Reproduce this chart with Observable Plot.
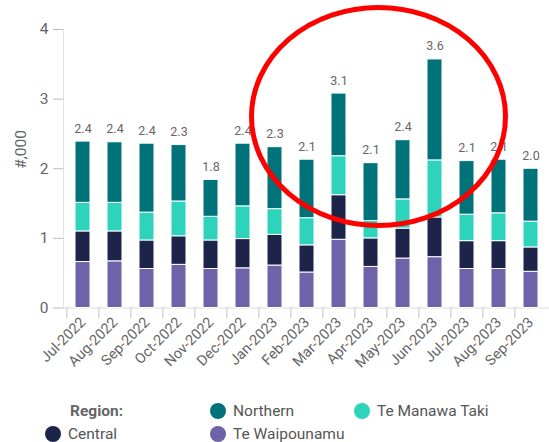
<!DOCTYPE html>
<html><head><meta charset="utf-8">
<script src="https://cdn.jsdelivr.net/npm/d3@7"></script>
<script src="https://cdn.jsdelivr.net/npm/@observablehq/plot@0.6"></script>
<style>
body{margin:0;background:#fff;font-family:Roboto,sans-serif}
#wrap{position:relative;width:549px;height:442px;overflow:hidden}
#wrap svg{display:block}
.leg{position:absolute;font-size:15.5px;color:#555;display:flex;align-items:center;white-space:nowrap;height:16px;line-height:16px}
.dot{width:16px;height:16px;border-radius:50%;margin-right:7px;display:inline-block}
</style></head><body><div id="wrap"></div>
<script>
const months = ["Jul-2022","Aug-2022","Sep-2022","Oct-2022","Nov-2022","Dec-2022","Jan-2023","Feb-2023","Mar-2023","Apr-2023","May-2023","Jun-2023","Jul-2023","Aug-2023","Sep-2023"];
const teWaipounamu = [0.66,0.67,0.56,0.62,0.56,0.57,0.61,0.51,0.98,0.59,0.71,0.73,0.56,0.56,0.52];
const central      = [0.44,0.43,0.41,0.41,0.41,0.42,0.44,0.39,0.64,0.41,0.43,0.57,0.40,0.40,0.35];
const teManawaTaki = [0.41,0.41,0.40,0.50,0.34,0.47,0.37,0.39,0.56,0.25,0.42,0.82,0.38,0.40,0.37];
const northern     = [0.88,0.87,0.99,0.81,0.53,0.90,0.89,0.84,0.90,0.83,0.85,1.45,0.77,0.77,0.76];
const totalLabels  = ["2.4","2.4","2.4","2.3","1.8","2.4","2.3","2.1","3.1","2.1","2.4","3.6","2.1","2.1","2.0"];
const regions = ["Te Waipounamu","Central","Te Manawa Taki","Northern"];
const regionColors = ["#6e63a8","#1c2549","#2dd3bb","#00737a"];
const yTicks = [0,1,2,3,4];
const yLabel = "#,000";

const seriesByRegion = [teWaipounamu, central, teManawaTaki, northern];
const rows = [];
months.forEach((m, i) => regions.forEach((r, j) => rows.push({month: m, region: r, value: seriesByRegion[j][i]})));
const totals = months.map((m, i) => ({month: m, total: seriesByRegion.reduce((s, a) => s + a[i], 0), label: totalLabels[i]}));

const chart = Plot.plot({
  width: 549, height: 390,
  marginLeft: 63, marginRight: 0, marginTop: 29, marginBottom: 82.5,
  style: {fontFamily: "Roboto, sans-serif", background: "#fff"},
  x: {domain: months, paddingInner: 0.54, paddingOuter: 0.27},
  y: {domain: [0, 4]},
  color: {domain: regions, range: regionColors},
  marks: [
    Plot.frame({anchor: "left", stroke: "#e3e3e3"}),
    Plot.ruleY([0], {stroke: "#dcdcdc"}),
    Plot.ruleX(months, {x: d => d, y1: 0, y2: -0.15, dx: -16.2, stroke: "#c4c4c4", clip: false}),
    Plot.barY(rows, Plot.stackY({x: "month", y: "value", fill: "region", order: regions, stroke: "white", strokeWidth: 1})),
    Plot.text(totals, {x: "month", y: "total", text: "label", dy: -13, fill: "#666", fontSize: 12.5}),
    Plot.axisY({ticks: yTicks, tickFormat: d3.format("d"), tickSize: 10, tickPadding: 5, fontSize: 15.5, color: "#666", stroke: "#bbb", label: null}),
    Plot.text([yLabel], {frameAnchor: "left", rotate: -90, dx: -42, fontSize: 15.5, fill: "#666", text: d => d}),
    Plot.axisX({tickSize: 0, tickRotate: -45, tickPadding: 12, fontSize: 14.5, color: "#666", label: null})
  ]
});
document.getElementById("wrap").appendChild(chart);

// Hand-drawn red highlight ellipse (annotation)
const highlight = {cx: 378.5, cy: 116.5, rx: 127, ry: 109};
d3.select(chart).append("ellipse")
  .attr("cx", highlight.cx).attr("cy", highlight.cy)
  .attr("rx", highlight.rx).attr("ry", highlight.ry)
  .attr("fill", "none").attr("stroke", "#f00").attr("stroke-width", 5);

// Legend
const legendItems = [
  {text: "Region:", bold: true, left: 70, top: 402.5},
  {text: "Northern", color: regionColors[3], left: 210, top: 402.5},
  {text: "Te Manawa Taki", color: regionColors[2], left: 354, top: 402.5},
  {text: "Central", color: regionColors[1], left: 45, top: 425.5},
  {text: "Te Waipounamu", color: regionColors[0], left: 210, top: 425.5}
];
const wrap = document.getElementById("wrap");
legendItems.forEach(it => {
  const d = document.createElement("div");
  d.className = "leg";
  d.style.left = it.left + "px";
  d.style.top = it.top + "px";
  if (it.bold) { d.style.fontWeight = "bold"; d.style.color = "#666"; }
  if (it.color) {
    const s = document.createElement("span");
    s.className = "dot";
    s.style.background = it.color;
    d.appendChild(s);
  }
  d.appendChild(document.createTextNode(it.text));
  wrap.appendChild(d);
});
</script></body></html>
